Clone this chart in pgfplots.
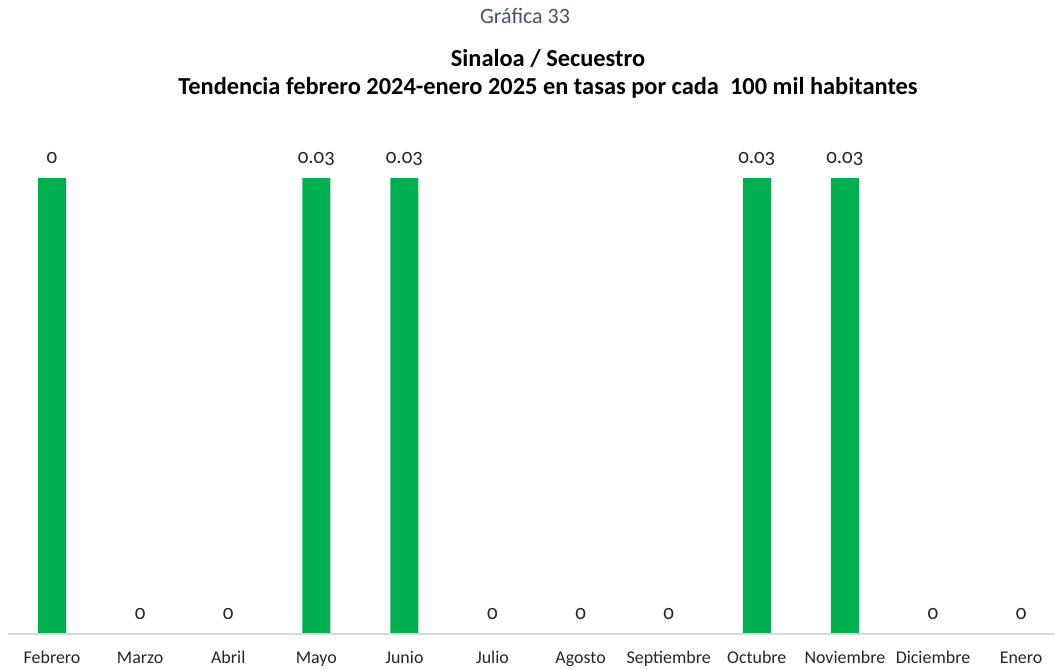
\documentclass[border=0pt]{standalone}
\usepackage{pgfplots}
\pgfplotsset{compat=1.18}
\usepackage{fontspec}
\setmainfont{Carlito}
\newfontfamily\oldnum[Numbers=OldStyle]{Carlito}
\definecolor{barg}{HTML}{00B050}
\definecolor{ttl}{HTML}{44546A}
\definecolor{axg}{HTML}{D9D9D9}
\pgfplotstableread{
x y lab
0 0.03 0
1 0 0
2 0 0
3 0.03 0.03
4 0.03 0.03
5 0 0
6 0 0
7 0 0
8 0.03 0.03
9 0.03 0.03
10 0 0
11 0 0
}\datatab
\begin{document}
\begin{tikzpicture}
\path[use as bounding box] (-8bp,-36bp) rectangle (1047bp,634bp);
\begin{axis}[
 at={(0,0)}, anchor=south west,
 scale only axis, width=1047bp, height=504bp,
 xmin=-0.5, xmax=11.385, ymin=0, ymax=0.03316,
 axis x line=bottom, axis y line=none, axis on top,
 x axis line style={axg, line width=1.5bp, -},
 xtick=data,
 xticklabels={Febrero,Marzo,Abril,Mayo,Junio,Julio,Agosto,Septiembre,Octubre,Noviembre,Diciembre,Enero},
 major tick length=0,
 xticklabel style={font=\fontsize{18}{18}\selectfont, anchor=base, yshift=-29bp, inner sep=0pt, text=black!85},
 ybar, bar width=28bp,
 nodes near coords, point meta=explicit symbolic,
 every node near coord/.append style={font=\oldnum\fontsize{21}{21}\selectfont, text=black!85, anchor=base, inner sep=0pt, yshift=15bp},
 clip=false,
]
\addplot[fill=barg, draw=none] table[x=x, y=y, meta=lab] {\datatab};
\end{axis}
\node[anchor=base, text=ttl, font=\fontsize{22}{22}\selectfont] at (517bp,610bp) {Gráfica 33};
\node[anchor=base, font=\bfseries\fontsize{24.5}{24.5}\selectfont] at (540bp,567bp) {Sinaloa / Secuestro};
\node[anchor=base, font=\bfseries\fontsize{24.5}{24.5}\selectfont] at (540bp,539bp) {Tendencia febrero 2024-enero 2025 en tasas por cada \ 100 mil habitantes};
\end{tikzpicture}
\end{document}
